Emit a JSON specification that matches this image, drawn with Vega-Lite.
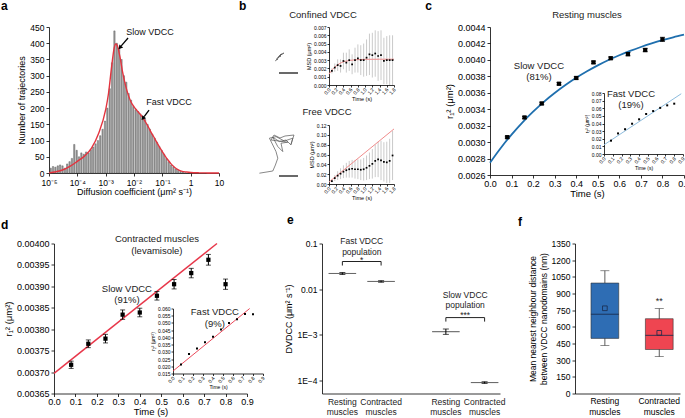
{
"$schema": "https://vega.github.io/schema/vega-lite/v6.json",
"padding": {"left": 0, "top": 0, "right": 0, "bottom": 0},
"autosize": {"type": "pad"},
"background": "white",
"config": {
 "font": "Liberation Sans",
 "view": {"stroke": null},
 "axis": {"grid": false, "domainColor": "#000", "tickColor": "#000", "labelColor": "#000", "titleColor": "#000", "labelFont": "Liberation Sans", "titleFont": "Liberation Sans", "titleFontWeight": "normal", "labelFontSize": 8.5, "titleFontSize": 9, "tickSize": 3, "labelPadding": 2, "titlePadding": 3, "labelOverlap": false, "labelFlush": false, "labelBound": false, "domainWidth": 0.8, "tickWidth": 0.8},
 "text": {"font": "Liberation Sans", "fontSize": 9, "color": "#222"},
 "title": {"font": "Liberation Sans", "fontWeight": "normal", "fontSize": 9.5, "color": "#222"}
},
"datasets": {
 "hist": [{"x":-5,"y":15},{"x":-4.917,"y":20},{"x":-4.833,"y":18},{"x":-4.75,"y":22},{"x":-4.667,"y":25},{"x":-4.583,"y":22},{"x":-4.5,"y":15},{"x":-4.417,"y":28},{"x":-4.333,"y":35},{"x":-4.25,"y":45},{"x":-4.167,"y":88},{"x":-4.083,"y":70},{"x":-4,"y":50},{"x":-3.917,"y":62},{"x":-3.833,"y":58},{"x":-3.75,"y":65},{"x":-3.667,"y":62},{"x":-3.583,"y":72},{"x":-3.5,"y":80},{"x":-3.417,"y":90},{"x":-3.333,"y":100},{"x":-3.25,"y":115},{"x":-3.167,"y":135},{"x":-3.083,"y":160},{"x":-3,"y":200},{"x":-2.917,"y":260},{"x":-2.833,"y":340},{"x":-2.75,"y":438},{"x":-2.667,"y":400},{"x":-2.583,"y":385},{"x":-2.5,"y":350},{"x":-2.417,"y":300},{"x":-2.333,"y":280},{"x":-2.25,"y":245},{"x":-2.167,"y":225},{"x":-2.083,"y":205},{"x":-2,"y":195},{"x":-1.917,"y":190},{"x":-1.833,"y":182},{"x":-1.75,"y":175},{"x":-1.667,"y":165},{"x":-1.583,"y":150},{"x":-1.5,"y":135},{"x":-1.417,"y":120},{"x":-1.333,"y":108},{"x":-1.25,"y":95},{"x":-1.167,"y":82},{"x":-1.083,"y":70},{"x":-1,"y":58},{"x":-0.917,"y":45},{"x":-0.833,"y":35},{"x":-0.75,"y":25},{"x":-0.667,"y":18},{"x":-0.583,"y":12},{"x":-0.5,"y":8},{"x":-0.417,"y":5},{"x":-0.333,"y":3},{"x":-0.25,"y":1}],
 "curveA": [{"x":-5,"y":0.5},{"x":-4.75,"y":4},{"x":-4.5,"y":10},{"x":-4.25,"y":21},{"x":-4,"y":36},{"x":-3.75,"y":52},{"x":-3.5,"y":77},{"x":-3.25,"y":122},{"x":-3,"y":195},{"x":-2.9,"y":245},{"x":-2.8,"y":320},{"x":-2.7,"y":385},{"x":-2.65,"y":398},{"x":-2.6,"y":395},{"x":-2.5,"y":360},{"x":-2.4,"y":310},{"x":-2.3,"y":270},{"x":-2.2,"y":240},{"x":-2.1,"y":218},{"x":-2,"y":204},{"x":-1.9,"y":193},{"x":-1.8,"y":183},{"x":-1.7,"y":172},{"x":-1.6,"y":158},{"x":-1.5,"y":143},{"x":-1.4,"y":126},{"x":-1.3,"y":111},{"x":-1.2,"y":95},{"x":-1.1,"y":80},{"x":-1,"y":66},{"x":-0.9,"y":52},{"x":-0.8,"y":40},{"x":-0.7,"y":29},{"x":-0.6,"y":20},{"x":-0.5,"y":13},{"x":-0.4,"y":8},{"x":-0.3,"y":5},{"x":-0.15,"y":3},{"x":0,"y":1.5},{"x":0.3,"y":0.5},{"x":0.6,"y":0.2},{"x":1,"y":0}],
 "arrA": [{"x":-2.21,"y":416,"x2":-2.45,"y2":392},{"x":-1.47,"y":194,"x2":-1.64,"y2":174}],
 "headA": [{"x":-2.48,"y":388},{"x":-1.67,"y":170}],
 "annA": [{"x":-1.435,"y":434,"t":"Slow VDCC"},{"x":-0.764,"y":219,"t":"Fast VDCC"}],
 "letA": [{"x":-6.694,"y":514.7,"t":"a"}],
 "trajC": [{"i":0,"x":0.8,"y":1.2},{"i":1,"x":0.95,"y":1.3},{"i":2,"x":0.85,"y":1.28},{"i":3,"x":1.0,"y":1.38},{"i":4,"x":0.92,"y":1.36},{"i":5,"x":1.1,"y":1.45},{"i":6,"x":1.0,"y":1.43},{"i":7,"x":1.15,"y":1.55},{"i":8,"x":1.05,"y":1.5},{"i":9,"x":1.25,"y":1.6},{"i":10,"x":1.12,"y":1.52},{"i":11,"x":0.97,"y":1.42},{"i":12,"x":1.08,"y":1.48}],
 "barC": [{"x":1.0,"x2":1.95,"y":0.6}],
 "trajF": [{"i":0,"x":0.02,"y":0.54},{"i":1,"x":0.69,"y":0.65},{"i":2,"x":0.82,"y":0.95},{"i":3,"x":0.94,"y":1.29},{"i":4,"x":0.85,"y":1.62},{"i":5,"x":0.69,"y":1.95},{"i":6,"x":0.52,"y":2.29},{"i":7,"x":0.85,"y":2.37},{"i":8,"x":1.27,"y":2.15},{"i":9,"x":1.69,"y":2.29},{"i":10,"x":1.6,"y":1.95},{"i":11,"x":1.35,"y":2.2},{"i":12,"x":1.02,"y":2.12},{"i":13,"x":0.69,"y":2.34},{"i":14,"x":0.94,"y":1.87},{"i":15,"x":1.19,"y":1.62},{"i":16,"x":1.1,"y":2.04},{"i":17,"x":1.44,"y":2.09},{"i":18,"x":0.6,"y":2.2},{"i":19,"x":0.75,"y":2.45},{"i":20,"x":1.05,"y":2.3},{"i":21,"x":1.3,"y":2.4},{"i":22,"x":1.75,"y":2.45},{"i":23,"x":1.6,"y":2.0}],
 "barF": [{"x":1.0,"x2":1.95,"y":0.4}],
 "msdC": [{"t":0.08,"m":0.0017,"e":0.0003},{"t":0.16,"m":0.0021,"e":0.0005},{"t":0.24,"m":0.0024,"e":0.0007},{"t":0.32,"m":0.0023,"e":0.0008},{"t":0.4,"m":0.0029,"e":0.001},{"t":0.48,"m":0.0027,"e":0.0012},{"t":0.56,"m":0.003,"e":0.0013},{"t":0.64,"m":0.0025,"e":0.0012},{"t":0.72,"m":0.003,"e":0.0015},{"t":0.8,"m":0.0032,"e":0.0017},{"t":0.88,"m":0.003,"e":0.0018},{"t":0.96,"m":0.003,"e":0.002},{"t":1.04,"m":0.0033,"e":0.0022},{"t":1.12,"m":0.0037,"e":0.0025},{"t":1.2,"m":0.0036,"e":0.0027},{"t":1.28,"m":0.0038,"e":0.0028},{"t":1.36,"m":0.0035,"e":0.003},{"t":1.44,"m":0.0036,"e":0.003},{"t":1.52,"m":0.0029,"e":0.0028},{"t":1.6,"m":0.003,"e":0.0029},{"t":1.68,"m":0.003,"e":0.003},{"t":1.76,"m":0.003,"e":0.003}],
 "msdF": [{"t":0.08,"m":0.006,"e":0.003},{"t":0.16,"m":0.012,"e":0.006},{"t":0.24,"m":0.017,"e":0.009},{"t":0.32,"m":0.021,"e":0.011},{"t":0.4,"m":0.025,"e":0.013},{"t":0.48,"m":0.028,"e":0.015},{"t":0.56,"m":0.03,"e":0.017},{"t":0.64,"m":0.031,"e":0.018},{"t":0.72,"m":0.03,"e":0.019},{"t":0.8,"m":0.03,"e":0.02},{"t":0.88,"m":0.029,"e":0.021},{"t":0.96,"m":0.03,"e":0.023},{"t":1.04,"m":0.033,"e":0.025},{"t":1.12,"m":0.037,"e":0.027},{"t":1.2,"m":0.041,"e":0.03},{"t":1.28,"m":0.047,"e":0.033},{"t":1.36,"m":0.05,"e":0.036},{"t":1.44,"m":0.048,"e":0.04},{"t":1.52,"m":0.045,"e":0.04},{"t":1.6,"m":0.044,"e":0.042},{"t":1.68,"m":0.047,"e":0.045},{"t":1.76,"m":0.058,"e":0.05}],
 "fitC": [{"t":0,"m":0.0013},{"t":0.1,"m":0.0019},{"t":0.2,"m":0.0023},{"t":0.3,"m":0.0026},{"t":0.4,"m":0.0028},{"t":0.5,"m":0.0029},{"t":0.6,"m":0.00298},{"t":0.8,"m":0.00306},{"t":1.0,"m":0.0031},{"t":1.4,"m":0.00311},{"t":1.8,"m":0.00311}],
 "fitF": [{"t":0,"m":0.004},{"t":1.8,"m":0.112}],
 "bTxtC": [{"t":-0.166,"m":0.00845,"s":"Confined VDCC"}],
 "bTxtF": [{"t":-0.055,"m":0.1464,"s":"Free VDCC"}],
 "letB": [{"t":-2.492,"m":0.009534,"s":"b"}],
 "cFit": [{"t":0,"r":0.00275},{"t":0.05,"r":0.002929},{"t":0.1,"r":0.003092},{"t":0.15,"r":0.003238},{"t":0.2,"r":0.00337},{"t":0.25,"r":0.00349},{"t":0.3,"r":0.003597},{"t":0.35,"r":0.003694},{"t":0.4,"r":0.003782},{"t":0.45,"r":0.003861},{"t":0.5,"r":0.003933},{"t":0.55,"r":0.003998},{"t":0.6,"r":0.004056},{"t":0.65,"r":0.004109},{"t":0.7,"r":0.004157},{"t":0.75,"r":0.0042},{"t":0.8,"r":0.004239},{"t":0.85,"r":0.004274},{"t":0.9,"r":0.004306}],
 "cPts": [{"t":0.08,"r":0.00306,"e":0.000012},{"t":0.16,"r":0.0033,"e":0.000012},{"t":0.24,"r":0.00347,"e":0.000015},{"t":0.32,"r":0.00371,"e":0.000015},{"t":0.4,"r":0.00378,"e":0.000015},{"t":0.48,"r":0.00397,"e":0.000015},{"t":0.56,"r":0.00402,"e":0.000015},{"t":0.64,"r":0.00407,"e":0.00002},{"t":0.72,"r":0.00412,"e":0.00002},{"t":0.8,"r":0.00425,"e":0.000025}],
 "cTxt": [{"t":0.45,"r":0.004546,"s":"Resting muscles"},{"t":0.227,"r":0.003926,"s":"Slow VDCC\n(81%)"},{"t":0.654,"r":0.003591,"s":"Fast VDCC\n(19%)"}],
 "letC": [{"t":-0.30,"r":0.004655,"s":"c"}],
 "cIn": [{"t":0.08,"v":0.0175},{"t":0.16,"v":0.027},{"t":0.24,"v":0.0325},{"t":0.32,"v":0.0397},{"t":0.4,"v":0.0455},{"t":0.48,"v":0.0525},{"t":0.56,"v":0.0563},{"t":0.64,"v":0.0605},{"t":0.72,"v":0.0638},{"t":0.8,"v":0.066}],
 "cInFit": [{"t":0,"v":0.012},{"t":0.88,"v":0.079}],
 "dPts": [{"t":0.08,"r":0.003717,"e":0.0000085},{"t":0.16,"r":0.003766,"e":0.000009},{"t":0.24,"r":0.003778,"e":0.00001},{"t":0.32,"r":0.003834,"e":0.000011},{"t":0.4,"r":0.003839,"e":0.00001},{"t":0.48,"r":0.003878,"e":0.00001},{"t":0.56,"r":0.003905,"e":0.000011},{"t":0.64,"r":0.003931,"e":0.000011},{"t":0.72,"r":0.003962,"e":0.0000125},{"t":0.8,"r":0.003905,"e":0.000012}],
 "dFit": [{"t":0,"r":0.003697},{"t":0.76,"r":0.004}],
 "dTxt": [{"t":0.48,"r":0.00401,"s":"Contracted muscles\n(levamisole)"},{"t":0.34,"r":0.003894,"s":"Slow VDCC\n(91%)"},{"t":0.75,"r":0.00384,"s":"Fast VDCC\n(9%)"}],
 "letD": [{"t":-0.2472,"r":0.004044,"s":"d"}],
 "dIn": [{"t":0.08,"v":0.0213},{"t":0.16,"v":0.0285},{"t":0.24,"v":0.0323},{"t":0.32,"v":0.0366},{"t":0.4,"v":0.0405},{"t":0.48,"v":0.0455},{"t":0.56,"v":0.05},{"t":0.64,"v":0.0525},{"t":0.72,"v":0.0562},{"t":0.8,"v":0.0561}],
 "dInFit": [{"t":0,"v":0.0167},{"t":0.767,"v":0.06}],
 "eBars": [{"pop":"Fast","cond":"Resting","v":0.0221,"lo":0.021,"hi":0.0232},{"pop":"Fast","cond":"Contracted","v":0.0148,"lo":0.0142,"hi":0.0154},{"pop":"Slow","cond":"Resting","v":0.00118,"lo":0.00103,"hi":0.00135},{"pop":"Slow","cond":"Contracted","v":0.000091,"lo":0.000087,"hi":0.000095}],
 "eBr": [{"pop":"Fast","cond":"Resting","y":0.033,"o":0},{"pop":"Fast","cond":"Resting","y":0.0404,"o":1},{"pop":"Fast","cond":"Contracted","y":0.0404,"o":2},{"pop":"Fast","cond":"Contracted","y":0.033,"o":3},{"pop":"Slow","cond":"Resting","y":0.00196,"o":0},{"pop":"Slow","cond":"Resting","y":0.0024,"o":1},{"pop":"Slow","cond":"Contracted","y":0.0024,"o":2},{"pop":"Slow","cond":"Contracted","y":0.00196,"o":3}],
 "eTxt": [{"pop":"Fast","y":0.112,"t":"Fast VDCC\npopulation"},{"pop":"Slow","y":0.0075,"t":"Slow VDCC\npopulation"},{"pop":"Fast","y":0.0435,"t":"*"},{"pop":"Slow","y":0.0027,"t":"***"}],
 "eLab": [{"pop":"Fast","cond":"Resting","y":0.0000429,"t":"Resting\nmuscles"},{"pop":"Fast","cond":"Contracted","y":0.0000429,"t":"Contracted\nmuscles"},{"pop":"Slow","cond":"Resting","y":0.0000429,"t":"Resting\nmuscles"},{"pop":"Slow","cond":"Contracted","y":0.0000429,"t":"Contracted\nmuscles"}],
 "fBox": [{"cond":"Resting muscles","lo":432,"q1":496,"med":713,"mean":767,"q3":994,"hi":1105},{"cond":"Contracted muscles","lo":332,"q1":396,"med":523,"mean":546,"q3":673,"hi":764}],
 "fTxt": [{"cond":"Contracted muscles","y":830,"t":"**"}]
},
"vconcat": [
 {"hconcat": [
  {"width": 170, "height": 146,
   "encoding": {
    "x": {"field": "x", "type": "quantitative", "scale": {"domain": [-5, 1]}, "title": "Diffusion coefficient (μm² s⁻¹)", "axis": {"values": [-5,-4,-3,-2,-1,0,1], "labelPadding": 2, "titlePadding": 1, "labelExpr": "['10⁻⁵','10⁻⁴','10⁻³','10⁻²','10⁻¹','1','10'][datum.value+5]"}},
    "y": {"field": "y", "type": "quantitative", "scale": {"domain": [0, 450]}, "title": "Number of trajectories", "axis": {"values": [0,50,100,150,200,250,300,350,400,450]}}},
   "layer": [
    {"data": {"name": "hist"}, "mark": {"type": "bar", "fill": "#9b9b9b", "stroke": "#505050", "strokeWidth": 0.4},
     "encoding": {"x": {"field": "x", "type": "quantitative", "bin": {"binned": true, "step": 0.083333}, "scale": {"domain": [-5, 1]}, "title": "Diffusion coefficient (μm² s⁻¹)", "axis": {"values": [-5,-4,-3,-2,-1,0,1], "labelPadding": 2, "titlePadding": 1, "labelExpr": "['10⁻⁵','10⁻⁴','10⁻³','10⁻²','10⁻¹','1','10'][datum.value+5]"}}}},
    {"data": {"name": "curveA"}, "mark": {"type": "line", "color": "#e3343f", "strokeWidth": 1.4, "interpolate": "monotone"}},
    {"data": {"name": "arrA"}, "mark": {"type": "rule", "color": "#000", "strokeWidth": 1.3}, "encoding": {"x2": {"field": "x2"}, "y2": {"field": "y2"}}},
    {"data": {"name": "headA"}, "mark": {"type": "point", "shape": "triangle", "angle": 220, "filled": true, "color": "#000", "size": 24, "opacity": 1}},
    {"data": {"name": "annA"}, "mark": {"type": "text", "fontSize": 9, "color": "#111"}, "encoding": {"text": {"field": "t"}}},
    {"data": {"name": "letA"}, "mark": {"type": "text", "fontSize": 12, "fontWeight": "bold", "color": "#000", "align": "left", "baseline": "middle"}, "encoding": {"text": {"field": "t"}}}
   ]},
  {"width": 191, "height": 157,
   "layer": [
    {"encoding": {"x": {"field": "x", "type": "quantitative", "scale": {"domain": [0, 2], "range": [0, 40]}, "axis": null}, "y": {"field": "y", "type": "quantitative", "scale": {"domain": [0, 2.9], "range": [58, 0]}, "axis": null}},
     "layer": [
      {"data": {"name": "trajC"}, "mark": {"type": "line", "color": "#555", "strokeWidth": 0.7}, "encoding": {"order": {"field": "i"}}},
      {"data": {"name": "barC"}, "mark": {"type": "rule", "color": "#444", "strokeWidth": 1.6}, "encoding": {"x2": {"field": "x2"}}}
    ]},
    {"encoding": {
      "x": {"field": "t", "type": "quantitative", "scale": {"domain": [0, 1.8], "range": [70, 135]}, "title": "Time (s)", "axis": {"orient": "bottom", "offset": -99, "values": [0,0.2,0.4,0.6,0.8,1,1.2,1.4,1.6,1.8], "format": ".1f", "labelAngle": -50, "labelFontSize": 5, "titleFontSize": 5.5, "tickSize": 2, "labelPadding": 1, "titlePadding": 1}},
      "y": {"field": "m", "type": "quantitative", "scale": {"domain": [0, 0.007], "range": [58, 0]}, "title": "MSD (μm²)", "axis": {"orient": "left", "offset": -70, "values": [0,0.001,0.002,0.003,0.004,0.005,0.006,0.007], "format": ".3f", "labelFontSize": 5, "titleFontSize": 5.5, "tickSize": 2, "labelPadding": 1, "titlePadding": 2}}},
     "layer": [
      {"data": {"name": "msdC"}, "mark": {"type": "errorbar", "color": "#bdbdbd", "thickness": 0.8}, "encoding": {"yError": {"field": "e"}}},
      {"data": {"name": "fitC"}, "mark": {"type": "line", "color": "#f08c8c", "strokeWidth": 1, "interpolate": "monotone"}},
      {"data": {"name": "msdC"}, "mark": {"type": "square", "color": "#000", "size": 3, "opacity": 1}},
      {"data": {"name": "bTxtC"}, "mark": {"type": "text", "fontSize": 9.5, "color": "#222"}, "encoding": {"text": {"field": "s"}}},
      {"data": {"name": "letB"}, "mark": {"type": "text", "fontSize": 12, "fontWeight": "bold", "color": "#000", "align": "left", "baseline": "middle"}, "encoding": {"text": {"field": "s"}}}
    ]},
    {"encoding": {"x": {"field": "x", "type": "quantitative", "scale": {"domain": [0, 2], "range": [0, 40]}, "axis": null}, "y": {"field": "y", "type": "quantitative", "scale": {"domain": [0, 2.95], "range": [157, 98]}, "axis": null}},
     "layer": [
      {"data": {"name": "trajF"}, "mark": {"type": "line", "color": "#555", "strokeWidth": 0.7}, "encoding": {"order": {"field": "i"}}},
      {"data": {"name": "barF"}, "mark": {"type": "rule", "color": "#444", "strokeWidth": 1.6}, "encoding": {"x2": {"field": "x2"}}}
    ]},
    {"encoding": {
      "x": {"field": "t", "type": "quantitative", "scale": {"domain": [0, 1.8], "range": [70, 135]}, "title": "Time (s)", "axis": {"orient": "bottom", "offset": 0, "values": [0,0.2,0.4,0.6,0.8,1,1.2,1.4,1.6,1.8], "format": ".1f", "labelAngle": -50, "labelFontSize": 5, "titleFontSize": 5.5, "tickSize": 2, "labelPadding": 1, "titlePadding": 1}},
      "y": {"field": "m", "type": "quantitative", "scale": {"domain": [0, 0.12], "range": [157, 98]}, "title": "MSD (μm²)", "axis": {"orient": "left", "offset": -70, "values": [0,0.02,0.04,0.06,0.08,0.1,0.12], "format": ".2f", "labelFontSize": 5, "titleFontSize": 5.5, "tickSize": 2, "labelPadding": 1, "titlePadding": 2}}},
     "layer": [
      {"data": {"name": "msdF"}, "mark": {"type": "errorbar", "color": "#bdbdbd", "thickness": 0.8}, "encoding": {"yError": {"field": "e"}}},
      {"data": {"name": "fitF"}, "mark": {"type": "line", "color": "#f08c8c", "strokeWidth": 1}},
      {"data": {"name": "msdF"}, "mark": {"type": "square", "color": "#000", "size": 3, "opacity": 1}},
      {"data": {"name": "bTxtF"}, "mark": {"type": "text", "fontSize": 9.5, "color": "#222"}, "encoding": {"text": {"field": "s"}}}
    ]}
   ],
   "resolve": {"scale": {"x": "independent", "y": "independent"}, "axis": {"x": "independent", "y": "independent"}}},
  {"width": 194, "height": 148,
   "layer": [
    {"encoding": {
      "x": {"field": "t", "type": "quantitative", "scale": {"domain": [0, 0.9]}, "title": "Time (s)", "axis": {"values": [0,0.1,0.2,0.3,0.4,0.5,0.6,0.7,0.8,0.9], "format": ".1f", "labelFontSize": 9, "titleFontSize": 9.5, "labelPadding": 1, "titlePadding": 0}},
      "y": {"field": "r", "type": "quantitative", "scale": {"domain": [0.0026, 0.0044]}, "title": "r₁² (μm²)", "axis": {"values": [0.0026,0.0028,0.003,0.0032,0.0034,0.0036,0.0038,0.004,0.0042,0.0044], "format": ".4f", "labelFontSize": 9, "titleFontSize": 9.5}}},
     "layer": [
      {"data": {"name": "cFit"}, "mark": {"type": "line", "color": "#1f6fae", "strokeWidth": 1.8, "interpolate": "monotone"}},
      {"data": {"name": "cPts"}, "mark": {"type": "errorbar", "color": "#000", "ticks": true, "thickness": 1}, "encoding": {"yError": {"field": "e"}}},
      {"data": {"name": "cPts"}, "mark": {"type": "square", "color": "#000", "size": 18, "opacity": 1}},
      {"data": {"name": "cTxt"}, "mark": {"type": "text", "fontSize": 9.5, "lineBreak": "\n", "color": "#222"}, "encoding": {"text": {"field": "s"}}},
      {"data": {"name": "letC"}, "mark": {"type": "text", "fontSize": 12, "fontWeight": "bold", "color": "#000", "align": "left", "baseline": "middle"}, "encoding": {"text": {"field": "s"}}}
    ]},
    {"encoding": {
      "x": {"field": "t", "type": "quantitative", "scale": {"domain": [0, 0.9], "range": [114, 193]}, "title": "Time (s)", "axis": {"orient": "bottom", "offset": -21, "values": [0,0.1,0.2,0.3,0.4,0.5,0.6,0.7,0.8,0.9], "format": ".1f", "labelAngle": -50, "labelFontSize": 5, "titleFontSize": 5, "tickSize": 2, "labelPadding": 1, "titlePadding": 1}},
      "y": {"field": "v", "type": "quantitative", "scale": {"domain": [0, 0.08], "range": [127, 66]}, "title": "r₂² (μm²)", "axis": {"orient": "left", "offset": -114, "values": [0,0.01,0.02,0.03,0.04,0.05,0.06,0.07,0.08], "format": ".2f", "labelFontSize": 5, "titleFontSize": 5, "tickSize": 2, "labelPadding": 1, "titlePadding": 2}}},
     "layer": [
      {"data": {"name": "cInFit"}, "mark": {"type": "line", "color": "#7fb3d9", "strokeWidth": 0.9}},
      {"data": {"name": "cIn"}, "mark": {"type": "square", "color": "#000", "size": 4, "opacity": 1}}
    ]}
   ],
   "resolve": {"scale": {"x": "independent", "y": "independent"}, "axis": {"x": "independent", "y": "independent"}}}
 ], "spacing": 40, "bounds": "flush"},
 {"hconcat": [
  {"width": 198, "height": 150,
   "layer": [
    {"encoding": {
      "x": {"field": "t", "type": "quantitative", "scale": {"domain": [0, 0.9], "range": [5, 198]}, "title": "Time (s)", "axis": {"values": [0,0.1,0.2,0.3,0.4,0.5,0.6,0.7,0.8,0.9], "format": ".1f", "labelFontSize": 9, "titleFontSize": 9.5, "labelPadding": 1, "titlePadding": 0}},
      "y": {"field": "r", "type": "quantitative", "scale": {"domain": [0.00365, 0.004]}, "title": "r₁² (μm²)", "axis": {"orient": "left", "offset": -5, "values": [0.00365,0.0037,0.00375,0.0038,0.00385,0.0039,0.00395,0.004], "format": ".5f", "labelFontSize": 9, "titleFontSize": 9.5}}},
     "layer": [
      {"data": {"name": "dFit"}, "mark": {"type": "line", "color": "#e8374a", "strokeWidth": 1.5}},
      {"data": {"name": "dPts"}, "mark": {"type": "errorbar", "color": "#000", "ticks": true, "thickness": 1}, "encoding": {"yError": {"field": "e"}}},
      {"data": {"name": "dPts"}, "mark": {"type": "square", "color": "#000", "size": 18, "opacity": 1}},
      {"data": {"name": "dTxt"}, "mark": {"type": "text", "fontSize": 9.5, "lineBreak": "\n", "color": "#222"}, "encoding": {"text": {"field": "s"}}},
      {"data": {"name": "letD"}, "mark": {"type": "text", "fontSize": 12, "fontWeight": "bold", "color": "#000", "align": "left", "baseline": "middle"}, "encoding": {"text": {"field": "s"}}}
    ]},
    {"encoding": {
      "x": {"field": "t", "type": "quantitative", "scale": {"domain": [0, 0.9], "range": [124, 214]}, "title": "Time (s)", "axis": {"orient": "bottom", "offset": -20, "values": [0,0.1,0.2,0.3,0.4,0.5,0.6,0.7,0.8,0.9], "format": ".1f", "labelAngle": -50, "labelFontSize": 5, "titleFontSize": 5, "tickSize": 2, "labelPadding": 1, "titlePadding": 1}},
      "y": {"field": "v", "type": "quantitative", "scale": {"domain": [0.015, 0.06], "range": [130, 65]}, "title": "r₂² (μm²)", "axis": {"orient": "left", "offset": -124, "values": [0.015,0.02,0.025,0.03,0.035,0.04,0.045,0.05,0.055,0.06], "format": ".3f", "labelFontSize": 5, "titleFontSize": 5, "tickSize": 2, "labelPadding": 1, "titlePadding": 2}}},
     "layer": [
      {"data": {"name": "dInFit"}, "mark": {"type": "line", "color": "#e8374a", "strokeWidth": 0.9}},
      {"data": {"name": "dIn"}, "mark": {"type": "square", "color": "#000", "size": 4, "opacity": 1}}
    ]}
   ],
   "resolve": {"scale": {"x": "independent", "y": "independent"}, "axis": {"x": "independent", "y": "independent"}}},
  {"width": 178, "height": 150,
   "title": {"text": "e", "anchor": "start", "frame": "group", "dx": -35, "dy": -6, "fontSize": 12, "fontWeight": "bold", "color": "#000"},
   "encoding": {
    "x": {"field": "pop", "type": "nominal", "scale": {"domain": ["Fast","Slow"], "paddingInner": 0.36, "paddingOuter": 0.04, "align": 0.8}, "axis": {"labels": false, "ticks": false, "title": null}}},
   "layer": [
    {"data": {"name": "eBars"}, "mark": {"type": "bar", "stroke": "#333", "strokeWidth": 0.5},
     "encoding": {
      "xOffset": {"field": "cond", "type": "nominal", "scale": {"domain": ["Resting","Contracted"], "paddingInner": 0.29, "paddingOuter": 0}},
      "y": {"field": "v", "type": "quantitative", "scale": {"type": "log", "domain": [0.0000525, 0.1], "nice": false}, "title": "DVDCC (μm² s⁻¹)", "axis": {"values": [0.0001,0.001,0.01,0.1], "labelExpr": "datum.value > 0.05 ? '0.1' : datum.value > 0.005 ? '0.01' : datum.value > 0.0005 ? '1E−3' : '1E−4'"}},
      "color": {"field": "cond", "type": "nominal", "scale": {"domain": ["Resting","Contracted"], "range": ["#2e6db4","#ef4551"]}, "legend": null}}},
    {"data": {"name": "eBars"}, "mark": {"type": "rule", "color": "#000", "strokeWidth": 1},
     "encoding": {"xOffset": {"field": "cond", "type": "nominal"}, "y": {"field": "lo", "type": "quantitative", "title": "DVDCC (μm² s⁻¹)"}, "y2": {"field": "hi"}}},
    {"data": {"name": "eBars"}, "mark": {"type": "tick", "color": "#000", "size": 6, "thickness": 1},
     "encoding": {"xOffset": {"field": "cond", "type": "nominal"}, "y": {"field": "hi", "type": "quantitative", "title": "DVDCC (μm² s⁻¹)"}}},
    {"data": {"name": "eBars"}, "mark": {"type": "tick", "color": "#000", "size": 6, "thickness": 1},
     "encoding": {"xOffset": {"field": "cond", "type": "nominal"}, "y": {"field": "lo", "type": "quantitative", "title": "DVDCC (μm² s⁻¹)"}}},
    {"data": {"name": "eBr"}, "mark": {"type": "line", "color": "#222", "strokeWidth": 1},
     "encoding": {"xOffset": {"field": "cond", "type": "nominal"}, "y": {"field": "y", "type": "quantitative", "title": "DVDCC (μm² s⁻¹)"}, "detail": {"field": "pop"}, "order": {"field": "o"}}},
    {"data": {"name": "eTxt"}, "mark": {"type": "text", "fontSize": 8.5, "lineBreak": "\n", "color": "#222"},
     "encoding": {"y": {"field": "y", "type": "quantitative", "title": "DVDCC (μm² s⁻¹)"}, "text": {"field": "t"}}},
    {"data": {"name": "eLab"}, "mark": {"type": "text", "fontSize": 8.5, "lineBreak": "\n", "baseline": "top", "color": "#222"},
     "encoding": {"xOffset": {"field": "cond", "type": "nominal"}, "y": {"field": "y", "type": "quantitative", "title": "DVDCC (μm² s⁻¹)"}, "text": {"field": "t"}}}
   ]},
  {"width": 105, "height": 150,
   "title": {"text": "f", "anchor": "start", "frame": "group", "dx": -57, "dy": -7, "fontSize": 12, "fontWeight": "bold", "color": "#000"},
   "encoding": {
    "x": {"field": "cond", "type": "nominal", "scale": {"domain": ["Resting muscles","Contracted muscles"], "paddingInner": 0.49, "paddingOuter": 0.21, "align": 0.7}, "title": null, "axis": {"labelExpr": "split(datum.label, ' ')", "labelAngle": 0, "ticks": false, "labelFontSize": 8.5, "labelPadding": 3}}},
   "layer": [
    {"data": {"name": "fBox"}, "mark": {"type": "rule", "color": "#333", "strokeWidth": 0.8},
     "encoding": {"y": {"field": "lo", "type": "quantitative", "scale": {"domain": [0, 1350]}, "title": ["Mean nearest neighbour distance", "between VDCC nanodomains (nm)"], "axis": {"values": [0,150,300,450,600,750,900,1050,1200,1350], "format": "d", "titleFontSize": 8.5}}, "y2": {"field": "hi"}}},
    {"data": {"name": "fBox"}, "mark": {"type": "tick", "color": "#333", "size": 9, "thickness": 0.8},
     "encoding": {"y": {"field": "lo", "type": "quantitative", "scale": {"domain": [0, 1350]}, "title": ["Mean nearest neighbour distance", "between VDCC nanodomains (nm)"], "axis": {"values": [0,150,300,450,600,750,900,1050,1200,1350], "format": "d", "titleFontSize": 8.5}}}},
    {"data": {"name": "fBox"}, "mark": {"type": "tick", "color": "#333", "size": 9, "thickness": 0.8},
     "encoding": {"y": {"field": "hi", "type": "quantitative", "scale": {"domain": [0, 1350]}, "title": ["Mean nearest neighbour distance", "between VDCC nanodomains (nm)"], "axis": {"values": [0,150,300,450,600,750,900,1050,1200,1350], "format": "d", "titleFontSize": 8.5}}}},
    {"data": {"name": "fBox"}, "mark": {"type": "bar", "stroke": "#333", "strokeWidth": 0.6},
     "encoding": {"y": {"field": "q1", "type": "quantitative", "scale": {"domain": [0, 1350]}, "title": ["Mean nearest neighbour distance", "between VDCC nanodomains (nm)"], "axis": {"values": [0,150,300,450,600,750,900,1050,1200,1350], "format": "d", "titleFontSize": 8.5}}, "y2": {"field": "q3"},
      "color": {"field": "cond", "type": "nominal", "scale": {"domain": ["Resting muscles","Contracted muscles"], "range": ["#2e6db4","#ef4551"]}, "legend": null}}},
    {"data": {"name": "fBox"}, "mark": {"type": "tick", "color": "#1a2a4a", "size": 28, "thickness": 1.2},
     "encoding": {"y": {"field": "med", "type": "quantitative", "scale": {"domain": [0, 1350]}, "title": ["Mean nearest neighbour distance", "between VDCC nanodomains (nm)"], "axis": {"values": [0,150,300,450,600,750,900,1050,1200,1350], "format": "d", "titleFontSize": 8.5}}}},
    {"data": {"name": "fBox"}, "mark": {"type": "square", "filled": false, "color": "#1a2a4a", "size": 22, "strokeWidth": 0.8, "opacity": 1},
     "encoding": {"y": {"field": "mean", "type": "quantitative", "scale": {"domain": [0, 1350]}, "title": ["Mean nearest neighbour distance", "between VDCC nanodomains (nm)"], "axis": {"values": [0,150,300,450,600,750,900,1050,1200,1350], "format": "d", "titleFontSize": 8.5}}}},
    {"data": {"name": "fTxt"}, "mark": {"type": "text", "fontSize": 9, "color": "#222"},
     "encoding": {"y": {"field": "y", "type": "quantitative", "scale": {"domain": [0, 1350]}, "title": ["Mean nearest neighbour distance", "between VDCC nanodomains (nm)"], "axis": {"values": [0,150,300,450,600,750,900,1050,1200,1350], "format": "d", "titleFontSize": 8.5}}, "text": {"field": "t"}}}
   ]}
 ], "spacing": 75, "bounds": "flush"}
],
"spacing": 12.5
}
